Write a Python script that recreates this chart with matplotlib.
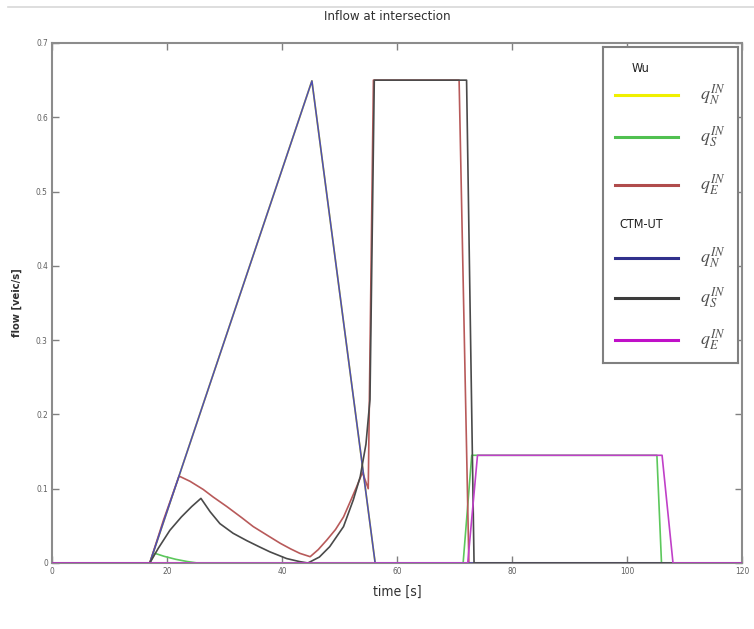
import matplotlib
matplotlib.use('Agg')
import matplotlib.pyplot as plt
from matplotlib.lines import Line2D

plt.rcParams['font.family'] = ['DejaVu Sans']
plt.rcParams['font.stretch'] = 'condensed'
plt.rcParams['mathtext.fontset'] = 'stix'

# ---------- data ----------
# Wu model
wu_n_t = [0, 17, 45.2, 56.2, 120]
wu_n_q = [0, 0, 0.649, 0, 0]

wu_s_t = [0, 17, 17.9, 19.5, 21.5, 23.5, 25.3, 71.5, 73.0, 105.2, 106.0, 120]
wu_s_q = [0, 0, 0.013, 0.009, 0.005, 0.002, 0, 0, 0.145, 0.145, 0, 0]

wu_e_t = [0, 17, 19.4, 22.1, 24.0, 26.3, 28.0, 30.4, 33.0, 35.0, 37.5, 39.7, 41.5,
          43.1, 44.9, 46.3, 47.8, 49.3, 50.7, 52.0, 53.0, 54.0, 55.0, 55.9,
          70.8, 72.5, 120]
wu_e_q = [0, 0, 0.058, 0.117, 0.110, 0.099, 0.089, 0.076, 0.061, 0.049, 0.037, 0.0265, 0.019,
          0.013, 0.0085, 0.018, 0.031, 0.045, 0.062, 0.085, 0.103, 0.122, 0.10, 0.65,
          0.65, 0, 0]

# CTM-UT model
ctm_n_t = [0, 17, 45.2, 56.2, 120]
ctm_n_q = [0, 0, 0.649, 0, 0]

ctm_s_t = [0, 17, 18.5, 20.5, 22.5, 24.3, 25.9, 27.5, 29.2, 31.5, 33.9, 36.0, 37.9,
           40.8, 43.0, 44.5, 46.5, 48.3, 50.7, 52.4, 53.6, 54.6, 55.3, 56.05,
           72.1, 73.4, 120]
ctm_s_q = [0, 0, 0.02, 0.044, 0.062, 0.076, 0.087, 0.069, 0.053, 0.040, 0.030, 0.022, 0.015,
           0.006, 0.002, 0, 0.008, 0.022, 0.049, 0.085, 0.116, 0.16, 0.22, 0.65,
           0.65, 0, 0]

ctm_e_t = [0, 72.3, 74.0, 106.1, 108.0, 120]
ctm_e_q = [0, 0, 0.145, 0.145, 0, 0]

x_ticks = [0, 20, 40, 60, 80, 100, 120]
y_ticks = [0, 0.1, 0.2, 0.3, 0.4, 0.5, 0.6, 0.7]
y_tick_labels = ['0', '0.1', '0.2', '0.3', '0.4', '0.5', '0.6', '0.7']

groups = ['Wu', 'CTM-UT']
entry_labels = [r'$q_N^{IN}$', r'$q_S^{IN}$', r'$q_E^{IN}$']
wu_colors = ['#f2f200', '#5cc85c', '#b85a5a']
ctm_colors = ['#5050b0', '#4a4a4a', '#c040c8']
legend_wu_colors = ['#f0f000', '#50c050', '#b04c4c']
legend_ctm_colors = ['#30308c', '#3c3c3c', '#c010c8']

# ---------- figure ----------
fig = plt.figure(figsize=(7.54, 6.29), dpi=100)
ax = fig.add_axes([52 / 754, 1 - 563 / 629, 690 / 754, 520 / 629])

series = [
    (wu_n_t, wu_n_q, wu_colors[0]),
    (wu_s_t, wu_s_q, wu_colors[1]),
    (wu_e_t, wu_e_q, wu_colors[2]),
    (ctm_n_t, ctm_n_q, ctm_colors[0]),
    (ctm_s_t, ctm_s_q, ctm_colors[1]),
    (ctm_e_t, ctm_e_q, ctm_colors[2]),
]
for t, q, c in series:
    ax.plot(t, q, color=c, lw=1.2, zorder=3)

ax.set_xlim(0, 120)
ax.set_ylim(0, 0.7)
ax.set_xticks(x_ticks)
ax.set_yticks(y_ticks)
ax.set_yticklabels(y_tick_labels)
ax.tick_params(direction='in', length=5, width=1, colors='#808080',
               labelcolor='#606060', labelsize=6, top=True, right=True, pad=3)
for spine in ax.spines.values():
    spine.set_color('#8c8c8c')
    spine.set_linewidth(1.5)

ax.set_xlabel('time [s]', fontsize=10, color='#303030', labelpad=6)
ax.set_ylabel('flow [veic/s]', fontsize=8, fontweight='bold', color='#303030', labelpad=10)
fig.text(387 / 754, 1 - 17 / 629, 'Inflow at intersection', ha='center', va='center',
         fontsize=9.5, color='#303030')

# faint rule along the top of the picture
fig.add_artist(Line2D([8 / 754, 1], [1 - 7 / 629, 1 - 7 / 629], transform=fig.transFigure,
                      color='#d8d8d8', lw=1.2))

# ---------- legend box ----------
lg = fig.add_axes([603 / 754, 1 - 363 / 629, 135 / 754, 316 / 629])
lg.set_xlim(0, 135)
lg.set_ylim(363, 47)
lg.set_xticks([])
lg.set_yticks([])
for spine in lg.spines.values():
    spine.set_color('#808080')
    spine.set_linewidth(1.5)

header_y = [68, 225]
row_y = [[95, 137, 185], [258, 298, 340]]
leg_colors = [legend_wu_colors, legend_ctm_colors]
for g, name in enumerate(groups):
    lg.text(38, header_y[g], name, ha='center', va='center', fontsize=9, color='#202020')
    for i, lab in enumerate(entry_labels):
        y = row_y[g][i]
        lg.plot([12, 75], [y, y], color=leg_colors[g][i], lw=2.2)
        lg.text(97, y, lab, ha='left', va='center', fontsize=13, color='#505050')

fig.savefig('out.png', dpi=100)
